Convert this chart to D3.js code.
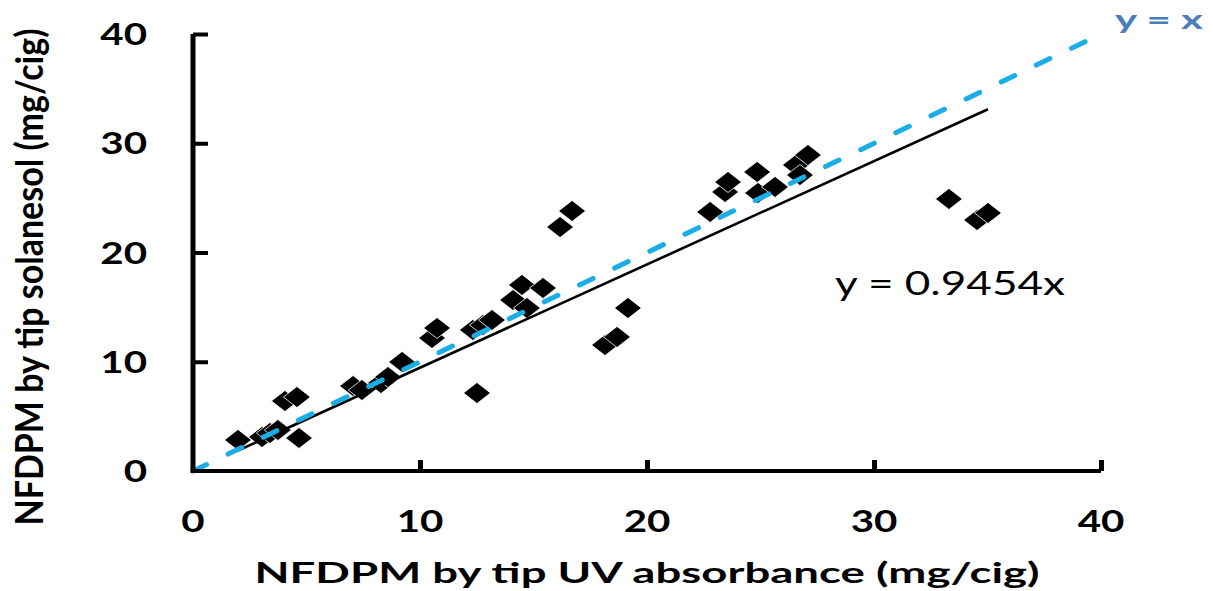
<!DOCTYPE html>
<html>
<head>
<meta charset="utf-8">
<script src="https://cdn.jsdelivr.net/npm/d3@7"></script>
<style>
  html, body { margin: 0; padding: 0; background: #fff; }
  svg { display: block; }
  text { font-family: Lato, "Open Sans", sans-serif; }
</style>
</head>
<body>
<svg id="chart" width="1213" height="591"></svg>
<script>
// ---- data ----
const uvAbsorbance = [1.98, 3.04, 3.39, 3.74, 4.67, 4.05, 4.58, 7.05, 7.44, 8.28, 8.59, 9.21,
  10.53, 10.75, 12.33, 12.51, 12.78, 13.17, 14.10, 14.71, 14.49, 15.42, 16.17, 16.70,
  18.15, 18.68, 19.16, 22.78, 23.44, 23.57, 24.85, 24.89, 25.64, 26.56, 26.74, 27.09,
  33.30, 34.54, 35.02];
const solanesol = [2.84, 3.11, 3.48, 3.75, 3.02, 6.41, 6.77, 7.78, 7.41, 8.05, 8.60, 9.98,
  12.17, 13.09, 12.91, 7.14, 13.36, 13.82, 15.65, 14.92, 17.03, 16.75, 22.33, 23.80,
  11.53, 12.27, 14.92, 23.71, 25.54, 26.45, 27.37, 25.45, 26.00, 28.01, 27.09, 28.92,
  24.90, 22.97, 23.62];
const xTicks = [0, 10, 20, 30, 40];
const yTicks = [0, 10, 20, 30, 40];
const fitSlope = 0.9454;
const identityLine = [0, 40];
const xTitle = "NFDPM by tip UV absorbance (mg/cig)";
const yTitle = "NFDPM by tip solanesol (mg/cig)";
const fitLabel = "y = 0.9454x";
const identityLabel = "y = x";

// ---- layout ----
const svg = d3.select("#chart");
const SX = 1.3; // horizontal stretch of the original figure
const x = d3.scaleLinear().domain([0, 40]).range([193, 1101]);
const y = d3.scaleLinear().domain([0, 40]).range([471, 34]);

// points
const diamond = "M0,-10.5L13.5,0L0,10.5L-13.5,0Z";
const pts = uvAbsorbance.map((v, i) => [v, solanesol[i]]);
svg.append("g").selectAll("path").data(pts).join("path")
  .attr("d", diamond)
  .attr("transform", d => `translate(${x(d[0])},${y(d[1])})`)
  .attr("fill", "#000")
  .attr("stroke", "#fff")
  .attr("stroke-width", 0.8);

// fit line
const xr = d3.extent(uvAbsorbance);
const line = d3.line().x(d => x(d[0])).y(d => y(d[1]));
svg.append("path")
  .attr("d", line(xr.map(v => [v, fitSlope * v])))
  .attr("fill", "none").attr("stroke", "#000").attr("stroke-width", 2.6);

// identity dashed line
svg.append("path")
  .attr("d", line(identityLine.map(v => [v, v])))
  .attr("fill", "none").attr("stroke", "#1AADE6").attr("stroke-width", 5)
  .attr("stroke-dasharray", "15 24").attr("stroke-linecap", "round");

// axes
const xAxis = svg.append("g").attr("transform", `translate(0,${y(0)})`)
  .call(d3.axisBottom(x).tickValues(xTicks.slice(1)).tickSizeInner(-11).tickSizeOuter(0).tickFormat(""));
xAxis.select(".domain").attr("stroke-width", 4).attr("d", `M${x(0)},0H${x(40)}`);
xAxis.selectAll(".tick line").attr("stroke-width", 5);

const yAxis = svg.append("g").attr("transform", `translate(${x(0)},0)`)
  .call(d3.axisLeft(y).tickValues(yTicks.slice(1)).tickSizeInner(-15).tickSizeOuter(0).tickFormat(""));
yAxis.select(".domain").attr("stroke-width", 5).attr("d", `M0,${y(0) + 2}V${y(40)}`);
yAxis.selectAll(".tick line").attr("stroke-width", 4);

// tick labels
const tickFont = 31;
svg.append("g").selectAll("text").data(xTicks).join("text")
  .attr("transform", d => `translate(${x(d)},532) scale(${SX},1)`)
  .attr("text-anchor", "middle")
  .attr("font-size", tickFont).attr("font-weight", "bold")
  .text(d => d);
svg.append("g").selectAll("text").data(yTicks).join("text")
  .attr("transform", d => `translate(147,${y(d) + 11}) scale(${SX},1)`)
  .attr("text-anchor", "end")
  .attr("font-size", tickFont).attr("font-weight", "bold")
  .text(d => d);

// axis titles
svg.append("text")
  .attr("x", 647).attr("y", 583)
  .attr("text-anchor", "middle")
  .attr("font-size", 29).attr("font-weight", "bold")
  .attr("textLength", 785).attr("lengthAdjust", "spacingAndGlyphs")
  .text(xTitle);
svg.append("text")
  .attr("transform", `translate(43,277) scale(${SX},1) rotate(-90)`)
  .attr("text-anchor", "middle")
  .attr("font-size", 29).attr("font-weight", "bold")
  .attr("textLength", 497).attr("lengthAdjust", "spacingAndGlyphs")
  .text(yTitle);

// annotations
svg.append("text")
  .attr("x", 835).attr("y", 295)
  .attr("font-size", 32)
  .attr("textLength", 230).attr("lengthAdjust", "spacingAndGlyphs")
  .text(fitLabel);
svg.append("text")
  .attr("x", 1115).attr("y", 29)
  .attr("font-size", 27).attr("font-weight", "bold").attr("fill", "#4A7EBB")
  .attr("textLength", 88).attr("lengthAdjust", "spacingAndGlyphs")
  .text(identityLabel);
</script>
</body>
</html>
